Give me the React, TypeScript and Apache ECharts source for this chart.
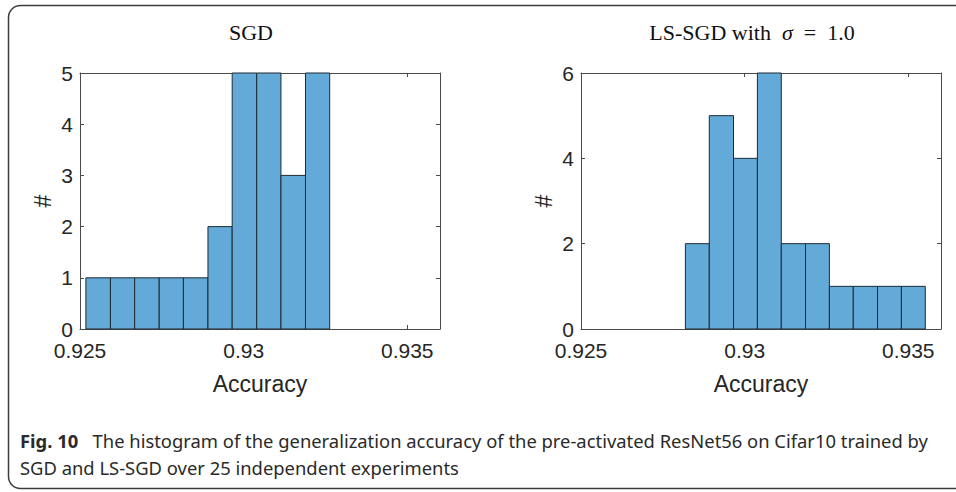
import React, { useEffect, useRef } from "react";
import * as echarts from "echarts";

// ---- data ----
const sgdBinEdges = [0.92518, 0.92593, 0.92667, 0.92742, 0.92816, 0.92891, 0.92965, 0.9304, 0.93114, 0.93189, 0.93263];
const sgdCounts = [1, 1, 1, 1, 1, 2, 5, 5, 3, 5];
const lsBinEdges = [0.92819, 0.92892, 0.92966, 0.93039, 0.93112, 0.93186, 0.93259, 0.93332, 0.93406, 0.93479, 0.93552];
const lsCounts = [2, 5, 4, 6, 2, 2, 1, 1, 1, 1];
const xTicks = [0.925, 0.93, 0.935];
const sgdYTicks = [0, 1, 2, 3, 4, 5];
const lsYTicks = [0, 2, 4, 6];
const titles = ["SGD", "LS-SGD with"];
const captionLine1 = "The histogram of the generalization accuracy of the pre-activated ResNet56 on Cifar10 trained by";
const captionLine2 = "SGD and LS-SGD over 25 independent experiments";

const toBins = (edges: number[], counts: number[]) =>
  counts.map((c, i) => [edges[i], edges[i + 1], c]);

const AXIS_COLOR = "#4a4a4a";
const TEXT_COLOR = "#262626";
const BAR_FILL = "#64aad8";
const BAR_EDGE = "#1e2a33";
const SANS = "'Liberation Sans', Arial, Helvetica, sans-serif";
const SERIF = "'Liberation Serif', 'Times New Roman', serif";
const CAPTION_FONT = "'Noto Sans', 'Open Sans', sans-serif";

const GRID_TOP = 73;
const GRID_H = 256;
const GRID_W = 360;
const GRID_LEFTS = [80, 581];

function makeAxes(gi: number, yMax: number, yInt: number, yTicks: number[]) {
  const xBottom: any = {
    type: "value",
    gridIndex: gi,
    position: "bottom",
    min: 0.925,
    max: 0.936,
    interval: 0.005,
    splitLine: { show: false },
    axisLine: { show: true, onZero: false, lineStyle: { color: AXIS_COLOR, width: 1 } },
    axisTick: { show: true, inside: true, length: 4, customValues: xTicks, lineStyle: { color: AXIS_COLOR } },
    axisLabel: {
      show: true,
      customValues: xTicks,
      formatter: (v: number) => String(+v.toFixed(3)),
      color: TEXT_COLOR,
      fontFamily: SANS,
      fontSize: 21,
      margin: 11,
    },
    name: "Accuracy",
    nameLocation: "middle",
    nameGap: 43,
    nameTextStyle: { color: TEXT_COLOR, fontFamily: SANS, fontSize: 23 },
  };
  const xTop: any = {
    type: "value",
    gridIndex: gi,
    position: "top",
    min: 0.925,
    max: 0.936,
    interval: 0.005,
    splitLine: { show: false },
    axisLine: { show: true, onZero: false, lineStyle: { color: AXIS_COLOR, width: 1 } },
    axisTick: { show: true, inside: true, length: 4, customValues: xTicks, lineStyle: { color: AXIS_COLOR } },
    axisLabel: { show: false },
  };
  const yLeft: any = {
    type: "value",
    gridIndex: gi,
    position: "left",
    min: 0,
    max: yMax,
    interval: yInt,
    splitLine: { show: false },
    axisLine: { show: true, onZero: false, lineStyle: { color: AXIS_COLOR, width: 1 } },
    axisTick: { show: true, inside: true, length: 4, customValues: yTicks, lineStyle: { color: AXIS_COLOR } },
    axisLabel: {
      show: true,
      customValues: yTicks,
      color: TEXT_COLOR,
      fontFamily: SANS,
      fontSize: 21,
      margin: 7,
    },
    name: "#",
    nameLocation: "middle",
    nameGap: 26,
    nameTextStyle: { color: TEXT_COLOR, fontFamily: SANS, fontSize: 23 },
  };
  const yRight: any = {
    type: "value",
    gridIndex: gi,
    position: "right",
    min: 0,
    max: yMax,
    interval: yInt,
    splitLine: { show: false },
    axisLine: { show: true, onZero: false, lineStyle: { color: AXIS_COLOR, width: 1 } },
    axisTick: { show: true, inside: true, length: 4, customValues: yTicks, lineStyle: { color: AXIS_COLOR } },
    axisLabel: { show: false },
  };
  return { x: [xBottom, xTop], y: [yLeft, yRight] };
}

const renderBin = (_params: any, api: any) => {
  const p0 = api.coord([api.value(0), 0]);
  const p1 = api.coord([api.value(1), api.value(2)]);
  return {
    type: "rect",
    shape: { x: p0[0], y: p1[1], width: p1[0] - p0[0], height: p0[1] - p1[1] },
    style: { fill: BAR_FILL, stroke: BAR_EDGE, lineWidth: 1 },
  };
};

export default function App() {
  const ref = useRef<HTMLDivElement>(null);

  useEffect(() => {
    document.body.style.margin = "0";
    if (!ref.current) return;
    const chart = echarts.init(ref.current, undefined, { renderer: "svg" });

    const a0 = makeAxes(0, 5, 1, sgdYTicks);
    const a1 = makeAxes(1, 6, 2, lsYTicks);

    const option: any = {
      animation: false,
      backgroundColor: "#ffffff",
      grid: GRID_LEFTS.map((l) => ({ left: l, top: GRID_TOP, width: GRID_W, height: GRID_H, containLabel: false })),
      xAxis: [...a0.x, ...a1.x],
      yAxis: [...a0.y, ...a1.y],
      series: [
        {
          type: "custom",
          name: "SGD",
          xAxisIndex: 0,
          yAxisIndex: 0,
          renderItem: renderBin,
          encode: { x: [0, 1], y: 2 },
          data: toBins(sgdBinEdges, sgdCounts),
        },
        {
          type: "custom",
          name: "LS-SGD",
          xAxisIndex: 2,
          yAxisIndex: 2,
          renderItem: renderBin,
          encode: { x: [0, 1], y: 2 },
          data: toBins(lsBinEdges, lsCounts),
        },
      ],
      graphic: [
        {
          type: "rect",
          shape: { x: 8.5, y: 5.5, width: 970, height: 483, r: 12 },
          style: { fill: "none", stroke: "#3c3c3c", lineWidth: 1.5 },
          silent: true,
        },
        {
          type: "text",
          x: 251,
          y: 32,
          style: {
            text: titles[0],
            fontFamily: SERIF,
            fontSize: 22,
            fill: "#111111",
            align: "center",
            verticalAlign: "middle",
          },
        },
        {
          type: "text",
          x: 752,
          y: 32,
          style: {
            text: titles[1] + "  {i|σ}  =  1.0",
            fontFamily: SERIF,
            fontSize: 22,
            fill: "#111111",
            align: "center",
            verticalAlign: "middle",
            rich: { i: { fontFamily: SERIF, fontStyle: "italic", fontSize: 22, fill: "#111111" } },
          },
        },
        {
          type: "text",
          x: 20,
          y: 440,
          style: {
            text: "{b|Fig. 10}   " + captionLine1,
            fontFamily: CAPTION_FONT,
            fontSize: 18.4,
            fill: "#2a2a2a",
            verticalAlign: "middle",
            rich: {
              b: { fontFamily: CAPTION_FONT, fontWeight: "bold", fontSize: 18.4, fill: "#2a2a2a" },
            },
          },
        },
        {
          type: "text",
          x: 20,
          y: 467,
          style: {
            text: captionLine2,
            fontFamily: CAPTION_FONT,
            fontSize: 18.4,
            fill: "#2a2a2a",
            verticalAlign: "middle",
          },
        },
      ],
    };

    chart.setOption(option);
    return () => chart.dispose();
  }, []);

  return <div ref={ref} style={{ width: 956, height: 492 }} />;
}
